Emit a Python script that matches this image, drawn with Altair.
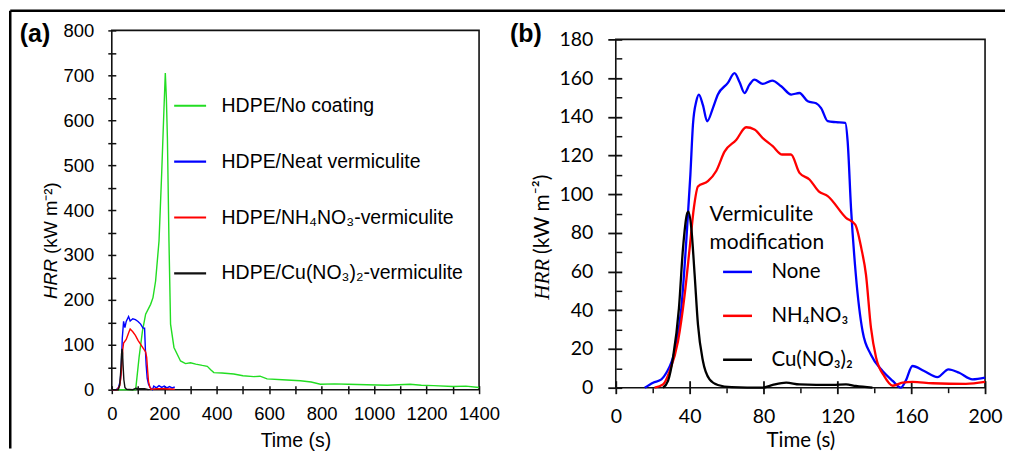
import altair as alt
import pandas as pd

# ---------------- Panel (a) data (Time s, HRR kW m-2) ----------------
a_names = ["HDPE/No coating", "HDPE/Neat vermiculite",
           "HDPE/NH\u2084NO\u2083-vermiculite", "HDPE/Cu(NO\u2083)\u2082-vermiculite"]
a_colors = ["#22dd22", "#0000ff", "#ff0000", "#111111"]

a_green_t = [0, 50, 91, 104, 117, 129, 148, 157, 167, 180, 190, 199, 204, 208, 212, 218, 224, 237,
             262, 281, 300, 320, 345, 364, 378, 389, 420, 465, 500, 541, 565, 592, 650, 719, 760,
             795, 850, 900, 972, 1050, 1137, 1180, 1226, 1300, 1350, 1400]
a_green_v = [0, 0, 0, 72, 131, 168, 190, 205, 242, 331, 479, 627, 705, 650, 560, 330, 146, 94,
             64, 58, 60, 57, 54, 52, 44, 38, 37, 35, 31, 29, 30, 24, 22, 20, 17,
             12, 13, 12, 11, 10, 12, 10, 9, 7, 8, 5]

a_blue_t = [0, 16, 25, 32, 36, 40, 45, 50, 55, 64, 70, 80, 90, 100, 110, 119, 125, 128, 131, 135,
            140, 145, 150, 155, 160, 170, 180, 190, 200, 210, 220, 230, 240]
a_blue_v = [0, 0, 4, 19, 45, 115, 152, 138, 152, 163, 153, 158, 156, 152, 146, 137, 137, 90, 55, 25,
            12, 6, 2, 0, 8, 4, 9, 5, 8, 4, 7, 4, 6]

a_red_t = [0, 21, 30, 34, 38, 42, 45, 55, 65, 70, 80, 90, 100, 110, 120, 129, 133, 137, 140, 145,
           150, 170, 200, 240]
a_red_v = [0, 0, 9, 24, 52, 90, 104, 112, 128, 135, 129, 121, 110, 101, 92, 84, 72, 40, 18, 6,
           1, 2, 2, 1]

a_black_t = [0, 25, 30, 34, 37, 39, 41, 43, 46, 50, 56, 80, 92, 100, 125, 140]
a_black_v = [0, 0, 10, 40, 78, 91, 82, 55, 22, 5, 1, 0, 3, 2, 2, 0]

# ---------------- Panel (b) data ----------------
b_names = ["None", "NH\u2084NO\u2083", "Cu(NO\u2083)\u2082"]
b_colors = ["#0000ff", "#ff0000", "#000000"]

b_none_t = [15.7, 20.2, 24.7, 27.4, 31.9, 35.5, 38.2, 40.4, 41.8, 43.6, 45.0, 47.2, 49.5, 52.6,
            55.3, 60.7, 64.3, 67.0, 69.7, 72.4, 75.1, 79.6, 84.7, 89.6, 95.0, 99.5, 104.0, 108.5,
            111.2, 114.8, 119.3, 124.3, 125.6, 127.4, 130.0, 133.7, 138.2, 144.5, 150.0, 154.4,
            157.0, 160.7, 167.0, 174.2, 180.2, 186.0, 193.2, 200.0]
b_none_v = [0, 2.6, 4.3, 7.7, 19, 41, 76, 110, 136, 148, 151.5, 146, 137.7, 144.5,
            151.5, 157.5, 162.6, 158, 152.3, 156.6, 159.2, 157, 158.7, 155.8, 151.5, 152.3, 148, 147,
            144.5, 137.7, 137.2, 136.8, 127, 93, 58.5, 29, 17, 8.6, 3.5, 0,
            3.5, 11.2, 8.6, 5.5, 9.5, 7.7, 4.3, 5.2]

b_nh_t = [21.0, 25.6, 29.2, 33.7, 37.3, 40.0, 42.3, 44.5, 49.9, 54.4, 58.9, 65.2, 70.6, 75.1,
          79.6, 85.0, 90.1, 94.9, 99.5, 104.9, 109.9, 114.8, 124.7, 129.7, 133.0, 135.5, 138.2,
          141.0, 145.4, 150.0, 155.3, 160.7, 171.5, 189.6, 200.0]
b_nh_v = [0, 1.7, 8.6, 24, 48, 72, 93, 104, 106.7, 112, 122, 128, 134.6, 133.4,
          129, 124.8, 120.5, 120.5, 111, 107.6, 101.5, 99, 87.8, 84.3, 72, 58.5, 31,
          15.5, 6, 1, 2.6, 3, 2.3, 2, 3]

b_cu_t = [25.6, 28.3, 31.0, 34.2, 36.4, 38.5, 39.3, 40.9, 42.7, 44.5, 47.2, 50.8, 55.3, 62.7,
          79.6, 85.0, 92.3, 99.5, 117.5, 124.7, 130.0, 139.0]
b_cu_v = [0, 3.5, 15.5, 41, 72, 89.5, 91, 82.6, 58.5, 32.7, 13.8, 4.3, 1.4, 0.3,
          0, 1.4, 2.6, 1.7, 1.4, 1.7, 0.9, 0]

a_x_ticks = list(range(0, 1401, 100))
a_y_ticks = list(range(0, 801, 50))
b_x_major = list(range(0, 201, 40))
b_x_minor = list(range(20, 200, 40))
b_y_major = list(range(0, 181, 20))
b_y_minor = list(range(10, 180, 20))


def long(names, ts, vs):
    rows = []
    for n, t, v in zip(names, ts, vs):
        for ti, vi in zip(t, v):
            rows.append({"series": n, "t": ti, "v": vi})
    return pd.DataFrame(rows)


df_a = long(a_names, [a_green_t, a_blue_t, a_red_t, a_black_t],
            [a_green_v, a_blue_v, a_red_v, a_black_v])
df_b = long(b_names, [b_none_t, b_nh_t, b_cu_t], [b_none_v, b_nh_v, b_cu_v])
one = pd.DataFrame({"k": [0]})

FA = "Liberation Sans"
FB = "Lato"

# ---------------- Panel (a) ----------------
ax_a_x = alt.Axis(values=a_x_ticks, labelExpr="datum.value % 200 == 0 ? datum.label : ''",
                  format="d", offset=-4, tickSize=8, domain=False, grid=False,
                  labelPadding=11, labelFontSize=18.5, labelFont=FA, labelColor="black",
                  labelFlush=False, labelOverlap=False, tickColor="#111", tickWidth=1.5,
                  title="Time (s)", titleFont=FA, titleFontSize=19.5, titleFontWeight="normal",
                  titleColor="black", titleY=55, titleBaseline="middle")
ax_a_y = alt.Axis(values=a_y_ticks, labelExpr="datum.value % 100 == 0 ? datum.label : ''",
                  format="d", offset=-4, tickSize=8, domain=False, grid=False,
                  labelPadding=14, labelFontSize=18.5, labelFont=FA, labelColor="black",
                  labelFlush=False, labelOverlap=False, tickColor="#111", tickWidth=1.5, title=None)

leg_a = alt.Legend(orient="none", legendX=61, legendY=58, title=None, padding=0,
                   symbolType="stroke", symbolSize=1024, symbolStrokeWidth=2.2,
                   labelFont=FA, labelFontSize=19.5, labelColor="black", labelLimit=400,
                   labelOffset=14, rowPadding=29)

lines_a = alt.Chart(df_a).mark_line(strokeWidth=1.4).encode(
    x=alt.X("t:Q", scale=alt.Scale(domain=[0, 1400], nice=False, zero=False), axis=ax_a_x),
    y=alt.Y("v:Q", scale=alt.Scale(domain=[0, 800], nice=False), axis=ax_a_y),
    color=alt.Color("series:N", scale=alt.Scale(domain=a_names, range=a_colors), legend=leg_a),
)

lab_a = alt.Chart(one).mark_text(text="(a)", font=FA, fontSize=25, fontWeight="bold",
                                 align="center", baseline="middle", color="black").encode(
    x=alt.value(-77), y=alt.value(3.5))
yt_a1 = alt.Chart(one).mark_text(text="HRR", font=FA, fontSize=18.5, fontStyle="italic",
                                 angle=270, align="right", baseline="middle", color="black").encode(
    x=alt.value(-61), y=alt.value(229))
yt_a2 = alt.Chart(one).mark_text(text="(kW m\u207b\u00b2)", font=FA, fontSize=18.5,
                                 angle=270, align="left", baseline="middle", color="black").encode(
    x=alt.value(-61), y=alt.value(224))
border_top = alt.Chart(one).mark_rule(color="black", strokeWidth=2.5).encode(
    x=alt.value(-101.75), x2=alt.value(895), y=alt.value(-19.75))
border_left = alt.Chart(one).mark_rule(color="black", strokeWidth=2.5).encode(
    x=alt.value(-101.75), y=alt.value(-19.75), y2=alt.value(419))

panel_a = alt.layer(lines_a, lab_a, yt_a1, yt_a2, border_top, border_left).properties(
    width=368, height=360)

# ---------------- Panel (b) ----------------
ax_b_x = alt.Axis(values=b_x_major, format="d", offset=-7, tickSize=13, domain=False, grid=False,
                  labelPadding=14, labelFontSize=19.5, labelFont=FB, labelColor="black",
                  labelFlush=False, labelOverlap=False, tickColor="#111", tickWidth=1.8,
                  title="Time (s)", titleFont=FB, titleFontSize=20.5, titleFontWeight="normal",
                  titleColor="black", titleY=60, titleBaseline="middle")
ax_b_y = alt.Axis(values=b_y_major, format="d", offset=-6, tickSize=14, domain=False, grid=False,
                  labelPadding=15, labelFontSize=19.5, labelFont=FB, labelColor="black",
                  labelFlush=False, labelOverlap=False, tickColor="#111", tickWidth=1.8, title=None)
ax_b_x_min = alt.Axis(orient="bottom", values=b_x_minor, offset=0, tickSize=5, domain=False,
                      grid=False, labels=False, tickColor="#111", tickWidth=1.5, title=None)
ax_b_y_min = alt.Axis(orient="left", values=b_y_minor, offset=-6, tickSize=6, domain=False,
                      grid=False, labels=False, tickColor="#111", tickWidth=1.5, title=None)

leg_b = alt.Legend(orient="none", legendX=94, legendY=174, padding=0,
                   title=["Vermiculite", "modification"], titleFont=FB, titleFontSize=21,
                   titleFontWeight="normal", titleColor="black", titleLineHeight=28,
                   titlePadding=3, titleLimit=400,
                   symbolType="stroke", symbolSize=841, symbolStrokeWidth=2.5, symbolOffset=12,
                   labelFont=FB, labelFontSize=20.5, labelColor="black", labelLimit=400,
                   labelOffset=18, rowPadding=17)

xb = alt.Scale(domain=[0, 200], nice=False)
yb = alt.Scale(domain=[0, 180], nice=False)

lines_b = alt.Chart(df_b).mark_line(strokeWidth=2.3, interpolate="monotone").encode(
    x=alt.X("t:Q", scale=xb, axis=ax_b_x),
    y=alt.Y("v:Q", scale=yb, axis=ax_b_y),
    color=alt.Color("series:N", scale=alt.Scale(domain=b_names, range=b_colors), legend=leg_b),
)
minor_b = alt.Chart(df_b).mark_line(opacity=0).encode(
    x=alt.X("t:Q", scale=xb, axis=ax_b_x_min),
    y=alt.Y("v:Q", scale=yb, axis=ax_b_y_min),
)
lab_b = alt.Chart(one).mark_text(text="(b)", font=FA, fontSize=25, fontWeight="bold",
                                 align="center", baseline="middle", color="black").encode(
    x=alt.value(-90), y=alt.value(-5))
yt_b1 = alt.Chart(one).mark_text(text="HRR", font="Liberation Serif", fontSize=21,
                                 fontStyle="italic", angle=270, align="right",
                                 baseline="middle", color="black").encode(
    x=alt.value(-73), y=alt.value(220))
yt_b2 = alt.Chart(one).mark_text(text="(kW m\u207b\u00b2)", font=FB, fontSize=21,
                                 angle=270, align="left", baseline="middle", color="black").encode(
    x=alt.value(-73), y=alt.value(215))

panel_b = alt.layer(lines_b, minor_b, lab_b, yt_b1, yt_b2).resolve_axis(
    x="independent", y="independent").properties(width=370, height=349)

spacer = alt.Chart(one).mark_point(opacity=0).properties(
    width=10, height=1, view=alt.ViewBackground(stroke=None))

right = alt.vconcat(spacer, panel_b, spacing=8, bounds="flush")

chart = alt.hconcat(panel_a, right, spacing=137, bounds="flush").resolve_scale(
    color="independent").properties(padding=0, background="white").configure_view(
    stroke="#111", strokeWidth=1.6)

chart.save("out.html", embed_options={"renderer": "svg", "actions": False})
